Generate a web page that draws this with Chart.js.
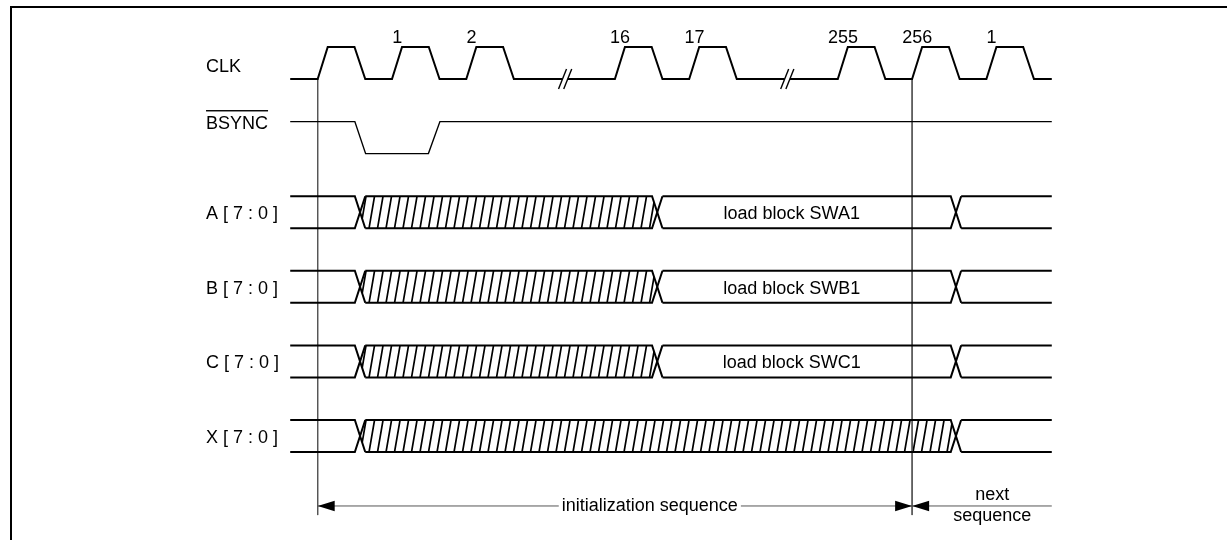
<!DOCTYPE html>
<html>
<head>
<meta charset="utf-8">
<script src="https://cdn.jsdelivr.net/npm/chart.js@4.4.1/dist/chart.umd.min.js"></script>
<style>
  html, body { margin: 0; padding: 0; background: #fff; }
  #wrap { width: 1227px; height: 540px; position: relative; }
</style>
</head>
<body>
<div id="wrap"><canvas id="timing"></canvas></div>
<script>
// signal names, top to bottom
const signalNames = ['CLK', 'BSYNC', 'A [ 7 : 0 ]', 'B [ 7 : 0 ]', 'C [ 7 : 0 ]', 'X [ 7 : 0 ]'];

// time counted in clock periods from the first rising edge
const clkRises = [0, 1, 2, 4, 5, 7, 8, 9];
const clkNumbers = ['', '1', '2', '16', '17', '255', '256', '1'];
const clkBreaks = [3.33, 6.32];

// BSYNC low from first value to second
const bsyncLow = [0.5, 1.49];

// bus transitions, and what the bus holds between them ('x' = invalid)
const busTransitions = [
  [0.5, 4.5, 8.52],
  [0.5, 4.5, 8.52],
  [0.5, 4.5, 8.52],
  [0.5, 8.52]
];
const busStates = [
  ['', 'x', 'load block SWA1', ''],
  ['', 'x', 'load block SWB1', ''],
  ['', 'x', 'load block SWC1', ''],
  ['', 'x', '']
];

// sequence markers (clock edges) and labels
const seqMarkers = [0, 8];
const seqLabels = ['initialization sequence', 'next', 'sequence'];

const tStart = -0.37, tEnd = 9.88;

// layout
const W = 1227, H = 540;
const ROW_PX = 74.6, ROW0_PX = 63;
const PERIOD_PX = 74.3, T0_PX = 317.7;
const yMin = -ROW0_PX / ROW_PX, yMax = yMin + H / ROW_PX;
const xMin = -T0_PX / PERIOD_PX, xMax = xMin + W / PERIOD_PX;
const HALF = 0.2145;   // half swing, rows
const RISE = 0.135, HIGH = 0.36, FALL = 0.145;
const BUS_EDGE = 0.14;
const ARROW_Y = 5.938, MARK_BOTTOM = 6.06;
const FONT = '18px "Liberation Sans", Arial, sans-serif';

function clkData() {
  const lo = HALF, hi = -HALF;
  const pts = [{ x: tStart, y: lo }];
  let bi = 0;
  clkRises.forEach(t => {
    while (bi < clkBreaks.length && clkBreaks[bi] < t) {
      const b = clkBreaks[bi++];
      pts.push({ x: b - 0.035, y: lo }, { x: b, y: null }, { x: b + 0.035, y: lo });
    }
    pts.push({ x: t, y: lo }, { x: t + RISE, y: hi }, { x: t + RISE + HIGH, y: hi }, { x: t + RISE + HIGH + FALL, y: lo });
  });
  pts.push({ x: tEnd, y: lo });
  return pts;
}

function bsyncData() {
  const r = 1, hi = r - HALF, lo = r + HALF;
  return [
    { x: tStart, y: hi },
    { x: bsyncLow[0], y: hi }, { x: bsyncLow[0] + FALL, y: lo },
    { x: bsyncLow[1], y: lo }, { x: bsyncLow[1] + FALL + 0.01, y: hi },
    { x: tEnd, y: hi }
  ];
}

// one rail of a bus: starts on 'from' level, crosses at every transition
function busRail(r, trans, fromTop) {
  const a = fromTop ? r - HALF : r + HALF;
  const b = fromTop ? r + HALF : r - HALF;
  const pts = [{ x: tStart, y: a }];
  trans.forEach(t => {
    pts.push({ x: t, y: a }, { x: t + BUS_EDGE, y: b }, { x: t + BUS_EDGE, y: null }, { x: t + BUS_EDGE, y: a });
  });
  pts.push({ x: tEnd, y: a });
  return pts;
}

const line = (data, w, color) => ({
  data, showLine: true, borderColor: color || '#000', borderWidth: w,
  pointRadius: 0, fill: false, tension: 0, spanGaps: false,
  borderJoinStyle: 'miter', borderCapStyle: 'butt'
});

const datasets = [line(clkData(), 2), line(bsyncData(), 1.4)];
busTransitions.forEach((tr, i) => {
  datasets.push(line(busRail(i + 2, tr, true), 2));
  datasets.push(line(busRail(i + 2, tr, false), 2));
});
seqMarkers.forEach(m => {
  datasets.push(line([{ x: m, y: HALF }, { x: m, y: MARK_BOTTOM }], 1, '#555'));
});
datasets.push(line([{ x: seqMarkers[0], y: ARROW_Y }, { x: tEnd, y: ARROW_Y }], 1, '#555'));

const decor = {
  id: 'decor',
  beforeDatasetsDraw(chart) {
    const { ctx, scales: { x, y } } = chart;
    ctx.save();
    // frame
    ctx.strokeStyle = '#000';
    ctx.lineWidth = 2;
    ctx.strokeRect(11, 7, 1400, 800);

    // hatching of invalid bus regions
    busTransitions.forEach((tr, i) => {
      const r = i + 2;
      const top = y.getPixelForValue(r - HALF), bot = y.getPixelForValue(r + HALF), mid = y.getPixelForValue(r);
      busStates[i].forEach((st, k) => {
        if (st !== 'x') return;
        const a = tr[k - 1], b = k < tr.length ? tr[k] : tEnd;
        const xa0 = x.getPixelForValue(a + BUS_EDGE / 2), xa1 = x.getPixelForValue(a + BUS_EDGE);
        const xb0 = x.getPixelForValue(b), xb1 = x.getPixelForValue(b + BUS_EDGE / 2);
        ctx.save();
        ctx.beginPath();
        ctx.moveTo(xa0, mid); ctx.lineTo(xa1, top); ctx.lineTo(xb0, top);
        ctx.lineTo(xb1, mid); ctx.lineTo(xb0, bot); ctx.lineTo(xa1, bot);
        ctx.closePath();
        ctx.clip();
        ctx.beginPath();
        for (let sx = xa0 - 8; sx < xb1 + 8; sx += 8.5) {
          ctx.moveTo(sx, bot); ctx.lineTo(sx + 5.5, top);
        }
        ctx.lineWidth = 1.7;
        ctx.stroke();
        ctx.restore();
      });
    });
    ctx.restore();
  },
  afterDatasetsDraw(chart) {
    const { ctx, scales: { x, y } } = chart;
    ctx.save();
    ctx.font = FONT;
    ctx.fillStyle = '#000';
    ctx.textBaseline = 'alphabetic';

    // clock breaks
    ctx.strokeStyle = '#000';
    ctx.lineWidth = 1.4;
    const yl = y.getPixelForValue(HALF);
    clkBreaks.forEach(b => {
      [b - 0.035, b + 0.035].forEach(t => {
        const px = x.getPixelForValue(t);
        ctx.beginPath();
        ctx.moveTo(px - 4, yl + 10); ctx.lineTo(px + 4, yl - 10);
        ctx.stroke();
      });
    });

    // signal names
    const lx = x.getPixelForValue(-1.503);
    ctx.textAlign = 'left';
    ctx.fillText(signalNames[0], lx, y.getPixelForValue(0.12));
    const by = y.getPixelForValue(1 - 0.115);
    ctx.fillText(signalNames[1], lx, by);
    const bw = ctx.measureText(signalNames[1]).width;
    ctx.fillRect(lx, y.getPixelForValue(1 - 0.36) - 0.7, bw, 1.4);
    for (let i = 2; i < signalNames.length; i++) {
      ctx.fillText(signalNames[i], lx, y.getPixelForValue(i + 0.094));
    }

    // clock numbers
    ctx.textAlign = 'center';
    clkRises.forEach((t, i) => {
      if (clkNumbers[i]) ctx.fillText(clkNumbers[i], x.getPixelForValue(t + 0.07), y.getPixelForValue(-0.268));
    });

    // bus contents
    busStates.forEach((states, i) => {
      states.forEach(st => {
        if (st && st !== 'x') ctx.fillText(st, x.getPixelForValue(6.38), y.getPixelForValue(i + 2 + 0.094));
      });
    });

    // arrows
    ctx.fillStyle = '#000';
    const ay = y.getPixelForValue(ARROW_Y);
    const head = (tip, dir) => {
      ctx.beginPath();
      ctx.moveTo(tip, ay); ctx.lineTo(tip + dir * 17, ay - 5.3); ctx.lineTo(tip + dir * 17, ay + 5.3);
      ctx.closePath(); ctx.fill();
    };
    const m0 = x.getPixelForValue(seqMarkers[0]), m1 = x.getPixelForValue(seqMarkers[1]);
    head(m0, 1); head(m1, -1); head(m1, 1);

    // sequence labels
    const ix = x.getPixelForValue(4.47);
    const iw = ctx.measureText(seqLabels[0]).width;
    ctx.fillStyle = '#fff';
    ctx.fillRect(ix - iw / 2 - 3, ay - 3, iw + 6, 6);
    ctx.fillStyle = '#000';
    ctx.fillText(seqLabels[0], ix, y.getPixelForValue(6.005));
    const nx = x.getPixelForValue(9.08);
    ctx.fillText(seqLabels[1], nx, y.getPixelForValue(5.858));
    ctx.fillText(seqLabels[2], nx, y.getPixelForValue(6.14));
    ctx.restore();
  }
};

new Chart(document.getElementById('timing'), {
  type: 'scatter',
  data: { datasets },
  options: {
    responsive: true,
    maintainAspectRatio: false,
    animation: false,
    layout: { padding: 0 },
    plugins: { legend: { display: false }, tooltip: { enabled: false } },
    scales: {
      x: { type: 'linear', display: false, min: xMin, max: xMax },
      y: { type: 'linear', display: false, reverse: true, min: yMin, max: yMax }
    }
  },
  plugins: [decor]
});
</script>
</body>
</html>
